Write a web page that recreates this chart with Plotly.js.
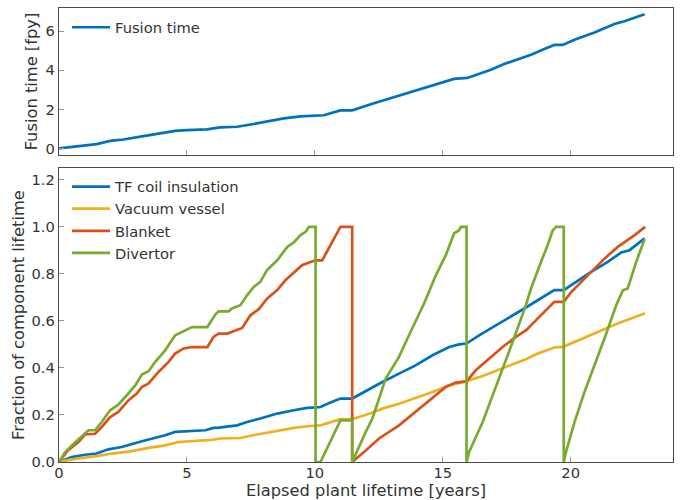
<!DOCTYPE html>
<html>
<head>
<meta charset="utf-8">
<script src="https://cdn.plot.ly/plotly-3.0.1.min.js"></script>
<style>html,body{margin:0;padding:0;background:#fff;}#chart{width:681px;height:500px;}</style>
</head>
<body>
<div id="chart"></div>
<script>
// ---- Data ----
const fusionYears = [0, 1.47, 2.0, 2.52, 3.3, 3.96, 4.54, 5.0, 5.78, 6.3, 6.96, 7.61, 8.13, 8.79, 9.44, 10.03, 10.35, 11.0, 11.46, 12.31, 12.96, 13.75, 14.66, 15.44, 15.96, 16.88, 17.4, 18.45, 18.97, 19.36, 19.69, 20.15, 20.93, 21.71, 22.1, 22.89];
const fusionValues = [0, 0.22, 0.39, 0.46, 0.63, 0.77, 0.9, 0.94, 0.98, 1.08, 1.11, 1.25, 1.37, 1.54, 1.64, 1.70, 1.70, 1.95, 1.95, 2.31, 2.57, 2.86, 3.25, 3.56, 3.61, 4.03, 4.32, 4.80, 5.09, 5.30, 5.30, 5.57, 5.94, 6.37, 6.51, 6.87];

const tfYears = [0, 0.5, 1.02, 1.47, 1.93, 2.45, 3.24, 3.76, 4.15, 4.54, 5.07, 5.72, 6.04, 6.24, 6.96, 7.35, 7.87, 8.53, 9.18, 9.7, 10.03, 10.22, 10.61, 11.0, 11.46, 11.92, 12.64, 13.29, 13.94, 14.6, 15.25, 15.64, 15.93, 16.42, 17.21, 17.86, 18.19, 18.71, 19.36, 19.73, 20.28, 20.8, 21.45, 21.97, 22.3, 22.89];
const tfValues = [0, 0.021, 0.031, 0.036, 0.054, 0.064, 0.088, 0.102, 0.114, 0.128, 0.132, 0.135, 0.145, 0.146, 0.156, 0.17, 0.185, 0.206, 0.22, 0.23, 0.232, 0.234, 0.253, 0.27, 0.27, 0.298, 0.34, 0.376, 0.411, 0.454, 0.489, 0.5, 0.504, 0.539, 0.589, 0.631, 0.653, 0.688, 0.731, 0.731, 0.773, 0.809, 0.851, 0.891, 0.901, 0.951];

const vvYears = [0, 0.5, 1.15, 1.54, 2.06, 2.85, 3.5, 4.15, 4.67, 5.2, 5.98, 6.31, 7.09, 7.74, 8.53, 9.18, 9.83, 10.22, 11.0, 11.46, 12.18, 12.64, 13.29, 13.94, 14.6, 15.25, 15.9, 16.56, 17.21, 17.86, 18.25, 18.71, 19.36, 19.73, 20.28, 21.06, 21.84, 22.91];
const vvValues = [0, 0.011, 0.021, 0.026, 0.036, 0.046, 0.06, 0.071, 0.085, 0.088, 0.094, 0.1, 0.102, 0.117, 0.131, 0.145, 0.153, 0.156, 0.182, 0.182, 0.207, 0.227, 0.248, 0.272, 0.298, 0.326, 0.343, 0.366, 0.394, 0.423, 0.437, 0.461, 0.487, 0.491, 0.518, 0.553, 0.589, 0.633];

const blYears = [0, 0.36, 0.76, 1.02, 1.41, 1.67, 2.0, 2.32, 2.71, 3.04, 3.24, 3.5, 3.89, 4.28, 4.54, 4.87, 5.2, 5.8, 6.04, 6.24, 6.57, 6.89, 7.16, 7.48, 7.81, 8.13, 8.53, 8.85, 9.24, 9.5, 9.83, 10.03, 10.29, 10.61, 11.0, 11.46, 11.46, 12.0, 12.51, 13.29, 13.94, 14.6, 15.12, 15.51, 15.93, 16.29, 16.82, 17.34, 17.86, 18.25, 18.58, 19.1, 19.36, 19.73, 20.02, 20.67, 21.32, 21.84, 22.1, 22.5, 22.91];
const blValues = [0, 0.05, 0.085, 0.117, 0.12, 0.149, 0.191, 0.213, 0.262, 0.291, 0.319, 0.334, 0.383, 0.426, 0.461, 0.483, 0.489, 0.489, 0.532, 0.546, 0.546, 0.56, 0.57, 0.624, 0.65, 0.695, 0.731, 0.773, 0.809, 0.837, 0.851, 0.858, 0.858, 0.922, 1.0, 1.0, 0, 0.05, 0.1, 0.156, 0.213, 0.27, 0.319, 0.338, 0.343, 0.39, 0.44, 0.489, 0.532, 0.56, 0.596, 0.652, 0.681, 0.681, 0.723, 0.794, 0.865, 0.915, 0.934, 0.965, 1.0];

const dvYears = [0, 0.23, 0.5, 0.89, 1.15, 1.41, 1.67, 2.0, 2.32, 2.65, 2.98, 3.24, 3.5, 3.76, 4.15, 4.54, 4.93, 5.2, 5.8, 6.11, 6.24, 6.63, 6.76, 7.09, 7.35, 7.61, 7.87, 8.13, 8.53, 8.92, 9.18, 9.44, 9.64, 9.77, 10.03, 10.03, 10.22, 11.0, 11.46, 11.46, 11.99, 12.25, 12.77, 13.29, 13.68, 14.27, 14.73, 15.12, 15.44, 15.64, 15.71, 15.93, 15.93, 16.03, 16.56, 17.21, 17.73, 18.25, 18.45, 18.84, 19.1, 19.3, 19.43, 19.73, 19.73, 19.82, 20.15, 20.54, 20.93, 21.32, 21.78, 22.04, 22.23, 22.56, 22.89];
const dvValues = [0, 0.04, 0.07, 0.11, 0.135, 0.135, 0.17, 0.22, 0.244, 0.284, 0.326, 0.372, 0.386, 0.426, 0.475, 0.539, 0.56, 0.574, 0.574, 0.627, 0.641, 0.641, 0.653, 0.667, 0.709, 0.745, 0.766, 0.816, 0.858, 0.915, 0.934, 0.965, 0.979, 1.0, 1.0, 0, 0, 0.177, 0.177, 0, 0.128, 0.185, 0.355, 0.447, 0.539, 0.674, 0.794, 0.88, 0.972, 0.986, 1.0, 1.0, 0, 0.043, 0.17, 0.355, 0.51, 0.667, 0.738, 0.851, 0.922, 0.986, 1.0, 1.0, 0, 0.043, 0.17, 0.298, 0.411, 0.525, 0.667, 0.73, 0.738, 0.851, 0.948];

const xTicks = [0, 5, 10, 15, 20];
const fusionTicks = [0, 2, 4, 6];
const fracTicks = [0, 0.2, 0.4, 0.6, 0.8, 1.0, 1.2];

// ---- Styling ----
const FONT = 'DejaVu Sans, sans-serif';
const TXT = '#333333';
const FS = 14.7;
const LW = 2.7;
const C = {blue: '#0072BD', yellow: '#EDB120', red: '#D95319', green: '#77AC30'};

const traces = [
  {x: fusionYears, y: fusionValues, name: 'Fusion time', mode: 'lines', line: {color: C.blue, width: LW}, xaxis: 'x', yaxis: 'y', legend: 'legend'},
  {x: tfYears, y: tfValues, name: 'TF coil insulation', mode: 'lines', line: {color: C.blue, width: LW}, xaxis: 'x2', yaxis: 'y2', legend: 'legend2'},
  {x: vvYears, y: vvValues, name: 'Vacuum vessel', mode: 'lines', line: {color: C.yellow, width: LW}, xaxis: 'x2', yaxis: 'y2', legend: 'legend2'},
  {x: blYears, y: blValues, name: 'Blanket', mode: 'lines', line: {color: C.red, width: LW}, xaxis: 'x2', yaxis: 'y2', legend: 'legend2'},
  {x: dvYears, y: dvValues, name: 'Divertor', mode: 'lines', line: {color: C.green, width: LW}, xaxis: 'x2', yaxis: 'y2', legend: 'legend2'}
];

const axBase = {
  showgrid: false, zeroline: false, showline: true, mirror: true,
  linecolor: '#4a4a4a', linewidth: 1.2,
  ticks: 'inside', ticklen: 5, tickwidth: 1, tickcolor: '#999999',
  tickfont: {family: FONT, size: FS, color: TXT},
  automargin: false
};

const legendBase = {xanchor: 'left', yanchor: 'top', bgcolor: 'rgba(0,0,0,0)', borderwidth: 0,
  itemwidth: 38, font: {family: FONT, size: FS, color: TXT}};

const layout = {
  width: 681, height: 500,
  margin: {l: 59, r: 8.3, t: 8, b: 38.3},
  paper_bgcolor: '#ffffff', plot_bgcolor: '#ffffff',
  font: {family: FONT, size: FS, color: TXT},
  showlegend: true,
  xaxis: Object.assign({}, axBase, {domain: [0, 1], anchor: 'y', range: [0, 24], tickvals: xTicks, showticklabels: false}),
  yaxis: Object.assign({}, axBase, {domain: [0.676, 1], anchor: 'x', range: [-0.34, 7.19], tickvals: fusionTicks,
    title: {text: 'Fusion time [fpy]', font: {family: FONT, size: 16.3, color: TXT}, standoff: 3}}),
  xaxis2: Object.assign({}, axBase, {domain: [0, 1], anchor: 'y2', range: [0, 24], tickvals: xTicks, ticklabelstandoff: -3,
    title: {text: 'Elapsed plant lifetime [years]', font: {family: FONT, size: 16.3, color: TXT}, standoff: 5}}),
  yaxis2: Object.assign({}, axBase, {domain: [0, 0.6473], anchor: 'x2', range: [0, 1.25], tickvals: fracTicks, tickformat: '.1f',
    title: {text: 'Fraction of component lifetime', font: {family: FONT, size: 16.3, color: TXT}, standoff: 2}}),
  legend: Object.assign({}, legendBase, {x: 0.013, y: 0.993}),
  legend2: Object.assign({}, legendBase, {x: 0.013, y: 0.642, tracegroupgap: 0})
};

Plotly.newPlot('chart', traces, layout, {displayModeBar: false, staticPlot: true});
</script>
</body>
</html>
